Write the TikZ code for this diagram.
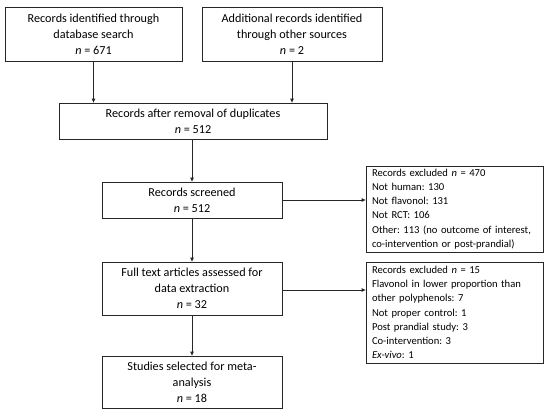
\documentclass[tikz,border=0pt]{standalone}
\usepackage{fontspec}
\setmainfont{Carlito}
\frenchspacing
\usetikzlibrary{arrows.meta,shadows}
\begin{document}
\begin{tikzpicture}[x=1pt,y=-1pt,
  box/.style={draw=black!85,line width=0.8pt,fill=white,rectangle,inner sep=0pt,
    font=\fontsize{12.2}{16}\selectfont,align=center,
    drop shadow={shadow xshift=0.9pt,shadow yshift=-0.9pt,fill=black!35,opacity=0.6}},
  sidebox/.style={draw=black!85,line width=0.8pt,fill=white,rectangle,inner xsep=6pt,inner ysep=0pt,
    font=\fontsize{10.6}{14.2}\selectfont,align=left,text width=165pt,minimum width=177pt,
    drop shadow={shadow xshift=0.9pt,shadow yshift=-0.9pt,fill=black!35,opacity=0.6}},
  arr/.style={draw=black!85,line width=0.8pt,-{Triangle[length=4pt,width=3.5pt]}}]
\useasboundingbox (0,0) rectangle (550,415);
\fill[white] (0,0) rectangle (550,415);
\node[box,minimum width=177pt,minimum height=54pt] (b1) at (93.5,34)
  {Records identified through\\database search\\\textit{n} = 671};
\node[box,minimum width=180pt,minimum height=54pt] (b2) at (292,34)
  {Additional records identified\\through other sources\\\textit{n} = 2};
\node[box,minimum width=268pt,minimum height=36pt] (b3) at (193,121)
  {Records after removal of duplicates\\\textit{n} = 512};
\node[box,minimum width=180pt,minimum height=36pt] (scr) at (192,200)
  {Records screened\\\textit{n} = 512};
\node[box,minimum width=180pt,minimum height=53pt] (ft) at (192,288.5)
  {Full text articles assessed for\\data extraction\\\textit{n} = 32};
\node[box,minimum width=180pt,minimum height=52pt] (st) at (192,382)
  {Studies selected for meta-\\analysis\\\textit{n} = 18};
\node[sidebox,minimum height=86pt] (r1) at (454.5,209)
  {Records excluded \textit{n} = 470\\Not human: 130\\Not flavonol: 131\\Not RCT: 106\\Other: 113 (no outcome of interest,\\co-intervention or post-prandial)};
\node[sidebox,minimum height=101pt] (r2) at (454.5,312.5)
  {Records excluded \textit{n} = 15\\Flavonol in lower proportion than\\other polyphenols: 7\\Not proper control: 1\\Post prandial study: 3\\Co-intervention: 3\\\textit{Ex-vivo}: 1};
\draw[arr] (b1.south) -- (b1.south |- b3.north);
\draw[arr] (b2.south) -- (b2.south |- b3.north);
\draw[arr] (b3.south -| scr.north) -- (scr.north);
\draw[arr] (scr.south) -- (ft.north);
\draw[arr] (ft.south) -- (st.north);
\draw[arr] (scr.east) -- (scr.east -| r1.west);
\draw[arr] ([yshift=-1.5pt]ft.east) -- ([yshift=-1.5pt]ft.east -| r2.west);
\end{tikzpicture}
\end{document}
